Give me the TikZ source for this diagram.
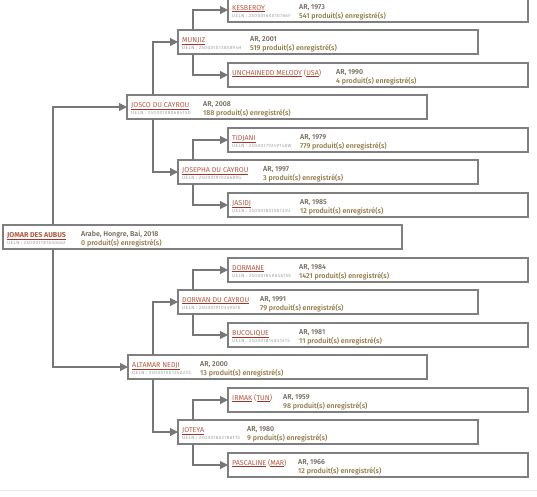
\documentclass[tikz,border=0pt]{standalone}
\usepackage{fontspec}
\setmainfont{Fira Sans}
\newfontfamily\firamed{Fira Sans Medium}
\newfontfamily\uelnfont[LetterSpace=10]{Fira Sans}
\usetikzlibrary{arrows.meta}
\definecolor{namec}{HTML}{B5583F}
\definecolor{ulc}{HTML}{A3342A}
\definecolor{arc}{HTML}{6E6253}
\definecolor{prc}{HTML}{8E7440}
\definecolor{uec}{HTML}{9D9D9D}
\definecolor{boxc}{HTML}{7F7F7F}
\definecolor{connc}{HTML}{777777}
\definecolor{sepc}{HTML}{E8E8E8}
\newcommand{\ulname}[1]{{\color{ulc}\underline{\color{namec}#1}}}
\newcommand{\horsebox}[9]{%
  \node[hbx, minimum width={#4-#2}] (#1) at (#2,#3) {};
  \node[nm] (#1-n) at (#2+4,#3+12) {#5};
  \node[ue] (#1-u) at (#2+4,#3+19.5) {#6};
  \node[arx] (#1-a) at (#7,#3+11) {#8};
  \node[pr] (#1-p) at (#7,#3+20) {#9};
}
\tikzset{
  hbx/.style={draw=boxc, line width=1.1pt, inner sep=0, outer sep=0, minimum height=24pt, anchor=north west},
  nm/.style={font=\fontsize{7.1}{7.5}\selectfont, text=namec, inner sep=0, anchor=base west},
  ue/.style={font=\uelnfont\fontsize{4.6}{5}\selectfont, text=uec, inner sep=0, anchor=base west},
  arx/.style={font=\firamed\fontsize{7.1}{7.5}\selectfont, text=arc, inner sep=0, anchor=base west},
  pr/.style={font=\firamed\fontsize{7.1}{7.5}\selectfont, text=prc, inner sep=0, anchor=base west},
  conn/.style={draw=connc, line width=1.1pt, -{Triangle[length=8pt,width=8pt]}},
}
\begin{document}
\begin{tikzpicture}[x=1pt,y=-1pt]
\useasboundingbox (0,0) rectangle (537,496);
\draw[sepc, line width=1pt] (0,490) -- (537,490);
% root
\horsebox{root}{3}{225}{402}{\ulname{\textbf{JOMAR DES AUBUS}}}{UELN : 250001181640662}{81}{Arabe, Hongre, Bai, 2018}{0 produit(s) enregistré(s)}
% generation 1
\horsebox{josco}{127}{95}{427}{\ulname{JOSCO DU CAYROU}}{UELN : 2500010806841SD}{203}{AR, 2008}{188 produit(s) enregistré(s)}
\horsebox{altamar}{128}{355}{427}{\ulname{ALTAMAR NEDJI}}{UELN : 25000100124022S}{200}{AR, 2000}{13 produit(s) enregistré(s)}
% generation 2
\horsebox{munjiz}{178}{30}{478}{\ulname{MUNJIZ}}{UELN : 25000101385894H}{250}{AR, 2001}{519 produit(s) enregistré(s)}
\horsebox{josepha}{178}{160}{478}{\ulname{JOSEPHA DU CAYROU}}{UELN : 25000197026689G}{263}{AR, 1997}{3 produit(s) enregistré(s)}
\horsebox{dorwan}{178}{290}{478}{\ulname{DORWAN DU CAYROU}}{UELN : 25000191034957D}{260}{AR, 1991}{79 produit(s) enregistré(s)}
\horsebox{joteya}{178}{420}{478}{\ulname{JOTEYA}}{UELN : 25000180278611S}{247}{AR, 1980}{9 produit(s) enregistré(s)}
% generation 3
\horsebox{kesberoy}{228}{-2}{528}{\ulname{KESBEROY}}{UELN : 25000160010766F}{299}{AR, 1973}{541 produit(s) enregistré(s)}
\horsebox{unchained}{228}{63}{528}{\ulname{UNCHAINEDD MELODY} (\ulname{USA})}{}{336}{AR, 1990}{4 produit(s) enregistré(s)}
\horsebox{tidjani}{228}{128}{528}{\ulname{TIDJANI}}{UELN : 25000179249148W}{300}{AR, 1979}{779 produit(s) enregistré(s)}
\horsebox{jasidj}{228}{193}{528}{\ulname{JASIDJ}}{UELN : 25000185158723U}{300}{AR, 1985}{12 produit(s) enregistré(s)}
\horsebox{dormane}{228}{258}{528}{\ulname{DORMANE}}{UELN : 25000184064615S}{299}{AR, 1984}{1421 produit(s) enregistré(s)}
\horsebox{bucolique}{228}{323}{528}{\ulname{BUCOLIQUE}}{UELN : 25000181483141S}{299}{AR, 1981}{11 produit(s) enregistré(s)}
\horsebox{irmak}{228}{388}{528}{\ulname{IRMAK} (\ulname{TUN})}{}{283}{AR, 1959}{98 produit(s) enregistré(s)}
\horsebox{pascaline}{228}{453}{528}{\ulname{PASCALINE} (\ulname{MAR})}{}{298}{AR, 1966}{12 produit(s) enregistré(s)}
% connectors
\draw[conn] ([xshift=50pt]root.north west) |- (josco.west);
\draw[conn] ([xshift=50pt]root.south west) |- (altamar.west);
\draw[conn] ([xshift=26pt]josco.north west) |- (munjiz.west);
\draw[conn] ([xshift=26pt]josco.south west) |- (josepha.west);
\draw[conn] ([xshift=25pt]altamar.north west) |- (dorwan.west);
\draw[conn] ([xshift=25pt]altamar.south west) |- (joteya.west);
\draw[conn] ([xshift=15pt]munjiz.north west) |- (kesberoy.west);
\draw[conn] ([xshift=15pt]munjiz.south west) |- (unchained.west);
\draw[conn] ([xshift=15pt]josepha.north west) |- (tidjani.west);
\draw[conn] ([xshift=15pt]josepha.south west) |- (jasidj.west);
\draw[conn] ([xshift=15pt]dorwan.north west) |- (dormane.west);
\draw[conn] ([xshift=15pt]dorwan.south west) |- (bucolique.west);
\draw[conn] ([xshift=15pt]joteya.north west) |- (irmak.west);
\draw[conn] ([xshift=15pt]joteya.south west) |- (pascaline.west);
\end{tikzpicture}
\end{document}
